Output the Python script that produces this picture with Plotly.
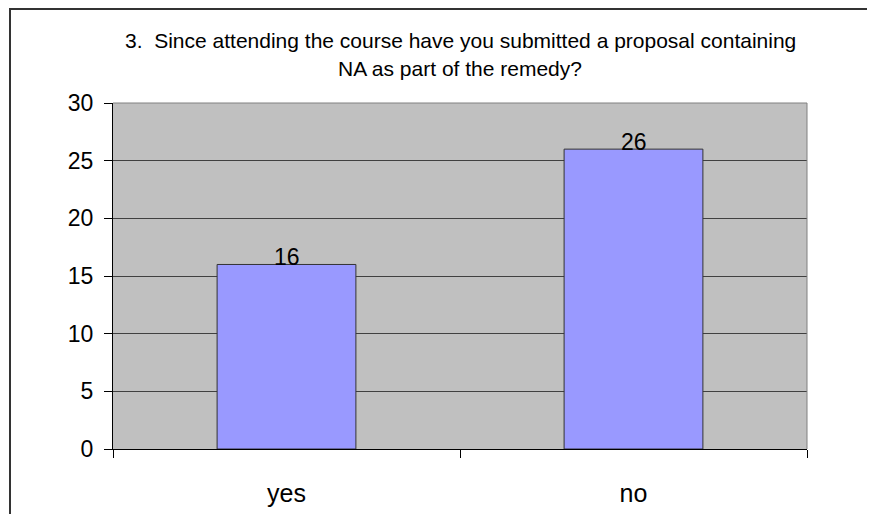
import plotly.graph_objects as go

categories = ["yes", "no"]
values = [16, 26]
title_lines = ["3.  Since attending the course have you submitted a proposal containing",
               "NA as part of the remedy?"]
y_ticks = [0, 5, 10, 15, 20, 25, 30]

# page body adds an 8px offset; coordinates below are figure coordinates
OFF = 8
W, H = 875 - OFF, 514 - OFF
L, R, T, B = 113 - OFF, 807 - OFF, 103 - OFF, 449 - OFF
pw, ph = R - L, B - T

def px_x(p):
    return (p - OFF - L) / pw

def px_y(p):
    return (B - (p - OFF)) / ph

FONT = "Liberation Sans, Arial"

fig = go.Figure()
fig.add_trace(go.Bar(
    x=categories, y=values,
    marker=dict(color="#9999ff", line=dict(color="#333333", width=1)),
    hoverinfo="x+y",
))

for c, v in zip(categories, values):
    fig.add_annotation(x=c, y=v, text=str(v), showarrow=False,
                       yanchor="middle", yshift=7,
                       font=dict(family=FONT, size=23, color="#000000"))

# title lines
for i, (line, yc) in enumerate(zip(title_lines, [40, 68])):
    fig.add_annotation(x=0.5, xref="paper", y=px_y(yc), yref="paper",
                       text=line, showarrow=False, xanchor="center", yanchor="middle",
                       font=dict(family=FONT, size=21, color="#000000"))

fig.update_layout(
    width=W, height=H,
    margin=dict(l=L, r=W - R, t=T, b=H - B, pad=0, autoexpand=False),
    paper_bgcolor="#ffffff",
    plot_bgcolor="#c0c0c0",
    bargap=0.6,
    showlegend=False,
    font=dict(family=FONT, color="#000000"),
    xaxis=dict(type="category", tickson="boundaries", ticks="outside", ticklen=8,
               tickcolor="#000000", showline=True, linecolor="#000000", linewidth=1,
               showgrid=False, tickfont=dict(size=25), ticklabelstandoff=22,
               automargin=False),
    yaxis=dict(range=[0, 30], tickvals=y_ticks, ticks="outside", ticklen=8,
               tickcolor="#000000", showline=True, linecolor="#000000", linewidth=1,
               showgrid=True, gridcolor="#404040", gridwidth=1, zeroline=False,
               tickfont=dict(size=23), ticklabelstandoff=6, automargin=False),
    shapes=[
        dict(type="line", xref="paper", yref="paper", x0=1, x1=1, y0=0, y1=1,
             line=dict(color="#808080", width=1), layer="above"),
        dict(type="line", xref="paper", yref="paper", x0=0, x1=1, y0=1, y1=1,
             line=dict(color="#808080", width=1), layer="below"),
        dict(type="rect", xref="paper", yref="paper",
             x0=px_x(10), x1=px_x(900), y0=px_y(9), y1=px_y(540),
             line=dict(color="#333333", width=2), fillcolor="rgba(0,0,0,0)"),
    ],
)

fig.write_html("out.html")
